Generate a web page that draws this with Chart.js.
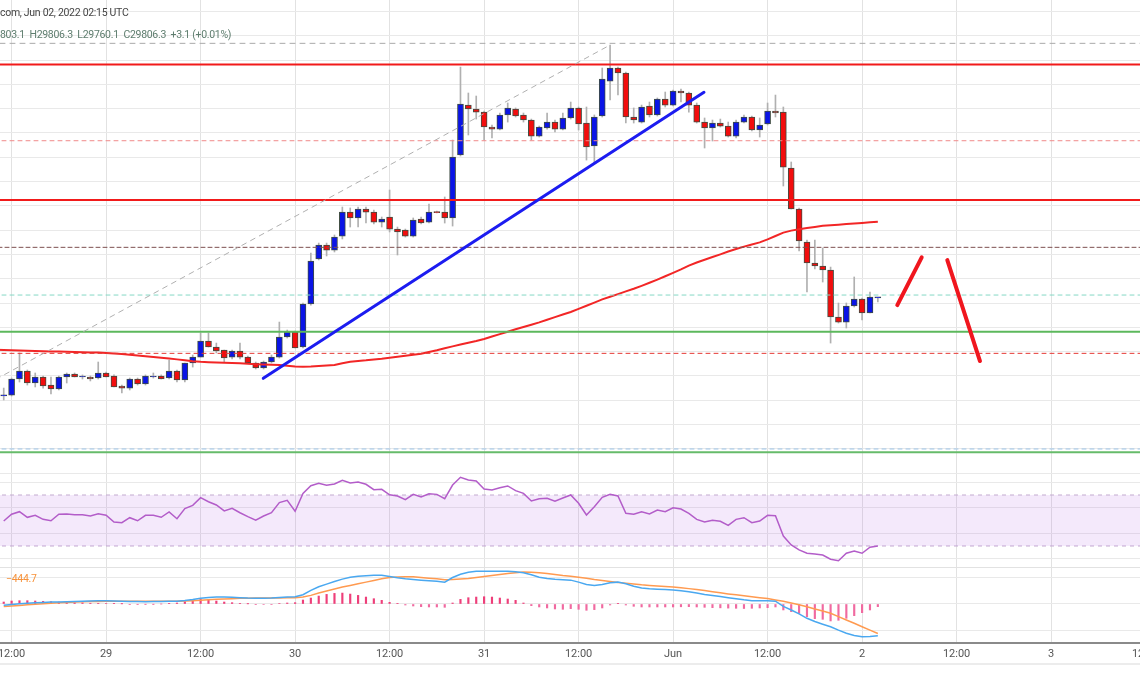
<!DOCTYPE html>
<html>
<head>
<meta charset="utf-8">
<script src="https://cdn.jsdelivr.net/npm/chart.js@4.4.1/dist/chart.umd.min.js"></script>
<style>
  html, body { margin: 0; padding: 0; background: #fff; width: 1140px; height: 694px; overflow: hidden; }
  .pane { position: absolute; left: -30px; }
  .legend { position: absolute; left: 0; font-family: Roboto, sans-serif; font-size: 10.5px; letter-spacing: -0.3px; white-space: pre; z-index: 5; }
</style>
</head>
<body>
<canvas id="main" class="pane" width="1200" height="476" style="top:0"></canvas>
<canvas id="rsi" class="pane" width="1200" height="91" style="top:476px"></canvas>
<canvas id="macd" class="pane" width="1200" height="127" style="top:567px"></canvas>
<div class="legend" style="top:6px;color:#444">com, Jun 02, 2022 02:15 UTC</div>
<div class="legend" style="top:28px;color:#5e7d6e">803.1  H29806.3  L29760.1  C29806.3  +3.1 (+0.01%)</div>
<div class="legend" style="top:572px;left:6px;color:#f7923a">−444.7</div>
<script>
// hourly candles, first one is 28 May 11:00 UTC (hour -1 counted from 28 May 12:00)
const FIRST_HOUR = -1;

const openP = [
  28795, 28803, 28968, 29050, 28927, 28989, 28906, 28865, 28989, 29019,
  28989, 28989, 28978, 29030, 28999, 28896, 28875, 28968, 28917, 28989,
  28999, 28978, 29050, 28958, 29133, 29194, 29359, 29297, 29266, 29194,
  29256, 29194, 29133, 29081, 29143, 29194, 29400, 29452, 29297, 29740,
  30203, 30347, 30295, 30439, 30686, 30625, 30717, 30686, 30583, 30635,
  30511, 30501, 30439, 30614, 30583, 30686, 30686, 30625, 31273, 31787,
  31746, 31715, 31561, 31540, 31685, 31746, 31685, 31633, 31468, 31551,
  31612, 31540, 31654, 31757, 31602, 31366, 31674, 32034, 32168, 32117,
  31664, 31612, 31777, 31685, 31849, 31787, 31931, 31911, 31787, 31612,
  31551, 31602, 31571, 31468, 31612, 31664, 31530, 31592, 31726, 31715,
  31139, 30717, 30378, 30162, 30131, 30090, 29606, 29554, 29719, 29791,
  29647, 29803
];
const highP = [
  28875, 28978, 29236, 29061, 29030, 28999, 28989, 28999, 29030, 29030,
  29010, 28999, 29143, 29040, 29010, 28906, 28978, 28978, 29010, 29030,
  29010, 29163, 29061, 29133, 29215, 29441, 29441, 29338, 29266, 29266,
  29338, 29205, 29143, 29153, 29215, 29554, 29472, 29462, 29750, 30265,
  30367, 30367, 30450, 30738, 30728, 30738, 30738, 30707, 30635, 30913,
  30532, 30511, 30625, 30635, 30769, 30697, 30841, 31427, 32178, 31911,
  31880, 31725, 31582, 31705, 31808, 31757, 31705, 31643, 31571, 31705,
  31633, 31705, 31818, 31767, 31767, 31685, 32168, 32405, 32178, 32127,
  31757, 31787, 31818, 31860, 31921, 31941, 31952, 31921, 31808, 31654,
  31633, 31643, 31612, 31633, 31685, 31674, 31654, 31808, 31890, 31767,
  31201, 30728, 30398, 30398, 30316, 30120, 29750, 29750, 30018, 29801,
  29863, 29806
];
const lowP = [
  28752, 28793, 28937, 28906, 28886, 28875, 28814, 28855, 28927, 28989,
  28968, 28948, 28968, 28989, 28886, 28824, 28855, 28906, 28906, 28978,
  28968, 28968, 28937, 28937, 29091, 29194, 29297, 29236, 29143, 29174,
  29174, 29133, 29071, 29071, 29133, 29184, 29390, 29287, 29287, 29729,
  30193, 30234, 30275, 30409, 30532, 30532, 30573, 30563, 30532, 30481,
  30244, 30429, 30429, 30563, 30573, 30676, 30573, 30542, 31263, 31479,
  31643, 31427, 31448, 31530, 31612, 31664, 31612, 31427, 31458, 31540,
  31510, 31530, 31643, 31530, 31221, 31191, 31664, 31839, 31890, 31602,
  31602, 31602, 31664, 31674, 31767, 31777, 31818, 31715, 31602, 31345,
  31417, 31561, 31458, 31448, 31602, 31520, 31458, 31582, 31664, 30954,
  30717, 30285, 29863, 30100, 29966, 29338, 29544, 29493, 29709, 29575,
  29647, 29760
];
const closeP = [
  28800, 28968, 29050, 28927, 28989, 28896, 28865, 28989, 29019, 28989,
  28992, 28968, 29030, 28989, 28886, 28875, 28968, 28917, 28999, 28999,
  28968, 29050, 28958, 29133, 29194, 29359, 29297, 29256, 29184, 29256,
  29194, 29133, 29081, 29143, 29194, 29400, 29452, 29287, 29740, 30182,
  30347, 30295, 30429, 30686, 30625, 30717, 30686, 30583, 30614, 30511,
  30481, 30439, 30604, 30573, 30686, 30680, 30625, 31252, 31798, 31746,
  31715, 31561, 31540, 31685, 31757, 31674, 31633, 31468, 31561, 31612,
  31540, 31654, 31757, 31592, 31355, 31664, 32055, 32168, 32117, 31664,
  31633, 31767, 31685, 31849, 31787, 31931, 31911, 31787, 31612, 31551,
  31602, 31571, 31468, 31612, 31664, 31530, 31582, 31726, 31705, 31149,
  30717, 30388, 30162, 30131, 30090, 29606, 29554, 29719, 29791, 29647,
  29812, 29806
];

// 100 period moving average, starts one bar earlier (off the left edge)
const SMA_FIRST_HOUR = -2;
const sma100 = [
  29268, 29266, 29264, 29262, 29259, 29257, 29254, 29252, 29250, 29248,
  29246, 29244, 29242, 29240, 29236, 29231, 29225, 29218, 29211, 29203,
  29195, 29187, 29179, 29170, 29160, 29151, 29145, 29141, 29138, 29135,
  29132, 29130, 29124, 29120, 29117, 29114, 29112, 29105, 29097, 29095,
  29097, 29101, 29106, 29112, 29130, 29145, 29154, 29160, 29168, 29176,
  29187, 29197, 29207, 29217, 29227, 29245, 29264, 29285, 29304, 29323,
  29342, 29360, 29380, 29405, 29430, 29455, 29480, 29503, 29527, 29551,
  29578, 29605, 29632, 29658, 29690, 29722, 29754, 29788, 29815, 29842,
  29870, 29897, 29927, 29958, 29990, 30025, 30060, 30096, 30135, 30167,
  30195, 30223, 30251, 30280, 30305, 30330, 30352, 30374, 30405, 30440,
  30474, 30495, 30510, 30522, 30533, 30544, 30550, 30556, 30562, 30568,
  30574, 30580, 30586
];

const rsi = [
  49.6, 54.9, 56.9, 52.5, 54.1, 50.9, 49.8, 54.9, 55.1, 54.5,
  54.5, 53.5, 55.3, 54.1, 48.8, 48.3, 52.2, 49.8, 54.1, 54.1,
  52.5, 56.7, 51.4, 59.3, 61.9, 67.9, 64.7, 62.2, 57.5, 59.6,
  56.1, 53.0, 50.2, 53.5, 56.1, 64.0, 65.8, 57.3, 71.3, 77.3,
  79.2, 77.6, 78.6, 81.5, 79.4, 80.2, 78.4, 74.2, 74.5, 70.2,
  69.2, 66.3, 70.5, 68.4, 71.0, 70.5, 67.1, 77.8, 83.9, 81.8,
  81.0, 74.7, 73.9, 75.7, 77.1, 73.4, 71.3, 65.3, 67.1, 67.4,
  65.1, 67.6, 70.0, 63.5, 54.3, 60.8, 68.2, 70.5, 69.2, 55.6,
  54.9, 56.9, 55.1, 58.2, 56.9, 60.0, 59.0, 55.6, 50.9, 48.8,
  50.2, 49.4, 46.2, 50.9, 52.2, 48.3, 49.6, 54.1, 53.8, 37.8,
  30.8, 26.9, 24.3, 23.7, 22.9, 19.6, 18.4, 24.3, 26.1, 24.3,
  29.0, 30.0
];
const rsiBands = [70, 30];

const macdLine = [
  -20, -8, 3, 12, 20, 24, 29, 32, 33, 36,
  41, 45, 48, 50, 45, 41, 38, 36, 35, 36,
  39, 42, 42, 53, 68, 86, 98, 106, 106, 101,
  95, 90, 88, 88, 90, 98, 106, 110, 140, 205,
  260, 300, 340, 375, 405, 420, 428, 433, 432, 415,
  395, 380, 370, 360, 352, 345, 330, 400, 448, 480,
  493, 495, 495, 495, 493, 485, 472, 440, 405, 385,
  372, 365, 360, 330, 295, 280, 295, 320, 330, 305,
  268, 240, 230, 224, 218, 211, 200, 185, 165, 145,
  128, 112, 95, 80, 63, 50, 48, 50, 42, -35,
  -90, -150, -216, -265, -305, -343, -395, -442, -475, -495,
  -490, -478
];
const signalLine = [
  -38, -30, -21, -12, -3, 5, 12, 18, 24, 29,
  33, 36, 39, 41, 41, 41, 41, 41, 41, 41,
  41, 41, 42, 45, 50, 56, 63, 71, 75, 80,
  85, 88, 89, 90, 90, 92, 94, 95, 105, 130,
  165, 195, 225, 255, 280, 305, 330, 355, 380, 400,
  408, 412, 410, 400, 390, 380, 365, 368, 376, 385,
  400, 415, 430, 445, 460, 472, 482, 480, 470, 460,
  445, 430, 420, 405, 388, 370, 355, 340, 325, 315,
  303, 290, 280, 272, 264, 256, 245, 232, 218, 203,
  185, 168, 152, 138, 124, 110, 96, 82, 62, 40,
  15, -10, -41, -75, -105, -140, -190, -241, -290, -343,
  -395, -445
];
const macdHist = [
  30, 45, 50, 50, 45, 40, 35, 30, 25, 20,
  18, 12, 10, 8, 5, 2, -5, -4, -3, -2,
  0, 5, 15, 35, 55, 70, 65, 45, 30, 20,
  10, 2, -5, -8, -6, 8, 15, 20, 60, 90,
  120, 145, 160, 165, 150, 130, 105, 80, 55, 25,
  5, -15, -30, -40, -45, -45, -50, 15, 70, 95,
  105, 110, 105, 90, 75, 55, 15, -25, -45, -60,
  -75, -80, -70, -80, -95, -85, -60, -15, 5, -15,
  -35, -45, -45, -45, -45, -45, -42, -40, -45, -50,
  -55, -58, -62, -65, -68, -65, -60, -55, -45, -90,
  -116, -141, -191, -221, -231, -256, -246, -216, -176, -131,
  -90, -40
];

// horizontal drawings on the price pane (price levels)
const levelPrices = [32422, 32204, 31420, 30810, 30323, 29832, 29455, 29232, 28248, 28214];
// sloped drawings: [hour, price] end points
const fibDiagonal = [[-2, 28965], [76, 32405]];
const blueTrend = [[31.96, 28975], [87.92, 31918]];
const projectionUp = [[112.47, 29729], [115.57, 30220]];
const projectionDown = [[118.82, 30192], [122.97, 29153]];

// time axis
const tickHours = [0, 12, 24, 36, 48, 60, 72, 84, 96, 108, 120, 132, 144];
const tickLabels = ['12:00', '29', '12:00', '30', '12:00', '31', '12:00', 'Jun', '12:00', '2', '12:00', '3', '12:00'];
const priceGrid = [28000, 28250, 28500, 28750, 29000, 29250, 29500, 29750, 30000, 30250, 30500,
  30750, 31000, 31250, 31500, 31750, 32000, 32250, 32500, 32750];
const rsiGrid = [20, 40, 60, 80];
const macdGrid = [-400, 0, 400];

// visible window
const X_MIN = -5.283, X_MAX = 147.1;
const PRICE_MIN = 27970, PRICE_MAX = 32868;
const RSI_MIN = 13.53, RSI_MAX = 84.9;
const MACD_MIN = -588.5, MACD_MAX = 558.3;

Chart.defaults.font.family = 'Roboto, sans-serif';
Chart.defaults.animation = false;

const hours = openP.map((_, i) => FIRST_HOUR + i);
const smaHours = sma100.map((_, i) => SMA_FIRST_HOUR + i);

function timeAxis(showLabels) {
  return {
    type: 'linear', min: X_MIN, max: X_MAX, offset: false,
    afterBuildTicks: s => { s.ticks = tickHours.map(v => ({ value: v })); },
    grid: { color: '#e2e2e2', drawTicks: false, offset: false },
    border: { display: showLabels, color: '#8a8a8a', width: 2 },
    ticks: {
      display: showLabels, autoSkip: false, maxRotation: 0, padding: 5,
      color: '#555', font: { size: 11 },
      callback: v => tickLabels[tickHours.indexOf(v)] ?? ''
    },
    afterFit: s => { s.height = showLabels ? 21 : 0; }
  };
}

function valueAxis(min, max, keep) {
  return {
    position: 'right', min, max,
    afterBuildTicks: s => { s.ticks = keep.map(v => ({ value: v })); },
    grid: { color: '#e9e9e9', drawTicks: false },
    border: { display: false },
    ticks: { display: false },
    afterFit: s => { s.width = 0; }
  };
}

function segment(points, color, width, dash, order) {
  return {
    type: 'line', data: points.map(p => ({ x: p[0], y: p[1] })),
    borderColor: color, borderWidth: width, borderDash: dash || [],
    borderCapStyle: 'round', pointRadius: 0, order
  };
}

const baseOptions = {
  responsive: false,
  events: [],
  plugins: { legend: { display: false }, tooltip: { enabled: false } }
};

// ----- price pane -----
const levelStyles = [
  { color: '#a9a9a9', width: 1, dash: [5, 5] },
  { color: '#f21a1a', width: 2 },
  { color: '#f08a8a', width: 1, dash: [4, 4] },
  { color: '#f21a1a', width: 2 },
  { color: '#7d5050', width: 1, dash: [4, 3] },
  { color: '#86d8c6', width: 1, dash: [4, 4] },
  { color: '#5cb85c', width: 2 },
  { color: '#e53935', width: 1, dash: [4, 4] },
  { color: '#9cc3e6', width: 1, dash: [4, 4] },
  { color: '#66bb6a', width: 2 }
];

const levelSets = levelPrices.map((p, i) =>
  segment([[X_MIN, p], [X_MAX, p]], levelStyles[i].color, levelStyles[i].width, levelStyles[i].dash, 4));

new Chart(document.getElementById('main'), {
  type: 'bar',
  data: {
    datasets: [
      {
        data: hours.map((h, i) => ({ x: h, y: [lowP[i], highP[i]] })),
        backgroundColor: '#b0b0b0', barThickness: 1, grouped: false, order: 10
      },
      {
        data: hours.map((h, i) => ({ x: h, y: [openP[i], closeP[i]] })),
        backgroundColor: hours.map((h, i) => closeP[i] >= openP[i] ? '#0a14e6' : '#f20d0d'),
        borderColor: '#3f4d42', borderWidth: 1, borderSkipped: false,
        barThickness: 6, minBarLength: 1, grouped: false, order: 9
      },
      {
        type: 'line', data: smaHours.map((h, i) => ({ x: h, y: sma100[i] })),
        borderColor: '#f22626', borderWidth: 2, pointRadius: 0, order: 5
      },
      ...levelSets,
      segment(fibDiagonal, '#b0b0b0', 1, [5, 5], 3),
      segment(blueTrend, '#1c1cf0', 3, null, 2),
      segment(projectionUp, '#f0161e', 4, null, 1),
      segment(projectionDown, '#f0161e', 4, null, 1)
    ]
  },
  options: {
    ...baseOptions,
    scales: {
      x: timeAxis(false),
      y: valueAxis(PRICE_MIN, PRICE_MAX, priceGrid)
    }
  }
});

// ----- RSI pane -----
new Chart(document.getElementById('rsi'), {
  type: 'line',
  data: {
    datasets: [
      {
        data: hours.map((h, i) => ({ x: h, y: rsi[i] })),
        borderColor: '#b35dc9', borderWidth: 1.5, pointRadius: 0, order: 1
      },
      {
        data: [{ x: X_MIN, y: rsiBands[0] }, { x: X_MAX, y: rsiBands[0] }],
        borderColor: '#c3abd0', borderWidth: 1, borderDash: [4, 4], pointRadius: 0,
        fill: '+1', backgroundColor: 'rgba(178,110,230,0.15)', order: 2
      },
      {
        data: [{ x: X_MIN, y: rsiBands[1] }, { x: X_MAX, y: rsiBands[1] }],
        borderColor: '#c3abd0', borderWidth: 1, borderDash: [4, 4], pointRadius: 0, order: 3
      }
    ]
  },
  options: {
    ...baseOptions,
    scales: {
      x: timeAxis(false),
      y: valueAxis(RSI_MIN, RSI_MAX, rsiGrid)
    }
  }
});

// ----- MACD pane + time axis -----
const paneEdges = {
  id: 'paneEdges',
  afterDraw(chart) {
    const { ctx, chartArea } = chart;
    ctx.save();
    ctx.strokeStyle = '#e2e2e2';
    ctx.lineWidth = 1;
    ctx.beginPath();
    ctx.moveTo(0, chartArea.top + 0.5);
    ctx.lineTo(chart.width, chartArea.top + 0.5);
    ctx.stroke();
    ctx.strokeStyle = '#ececec';
    ctx.lineWidth = 2;
    ctx.beginPath();
    ctx.moveTo(0, chartArea.bottom + 21);
    ctx.lineTo(chart.width, chartArea.bottom + 21);
    ctx.stroke();
    ctx.restore();
  }
};

new Chart(document.getElementById('macd'), {
  type: 'bar',
  data: {
    datasets: [
      {
        data: hours.map((h, i) => ({ x: h, y: macdHist[i] })),
        backgroundColor: macdHist.map(v => v >= 0 ? '#ee3f7a' : '#f06aa0'),
        barThickness: 1.5, grouped: false, order: 3
      },
      {
        type: 'line', data: hours.map((h, i) => ({ x: h, y: signalLine[i] })),
        borderColor: '#ff9a50', borderWidth: 1.5, pointRadius: 0, order: 2
      },
      {
        type: 'line', data: hours.map((h, i) => ({ x: h, y: macdLine[i] })),
        borderColor: '#4aa8f0', borderWidth: 1.5, pointRadius: 0, order: 1
      }
    ]
  },
  options: {
    ...baseOptions,
    layout: { padding: { bottom: 30 } },
    scales: {
      x: timeAxis(true),
      y: valueAxis(MACD_MIN, MACD_MAX, macdGrid)
    }
  },
  plugins: [paneEdges]
});
</script>
</body>
</html>
